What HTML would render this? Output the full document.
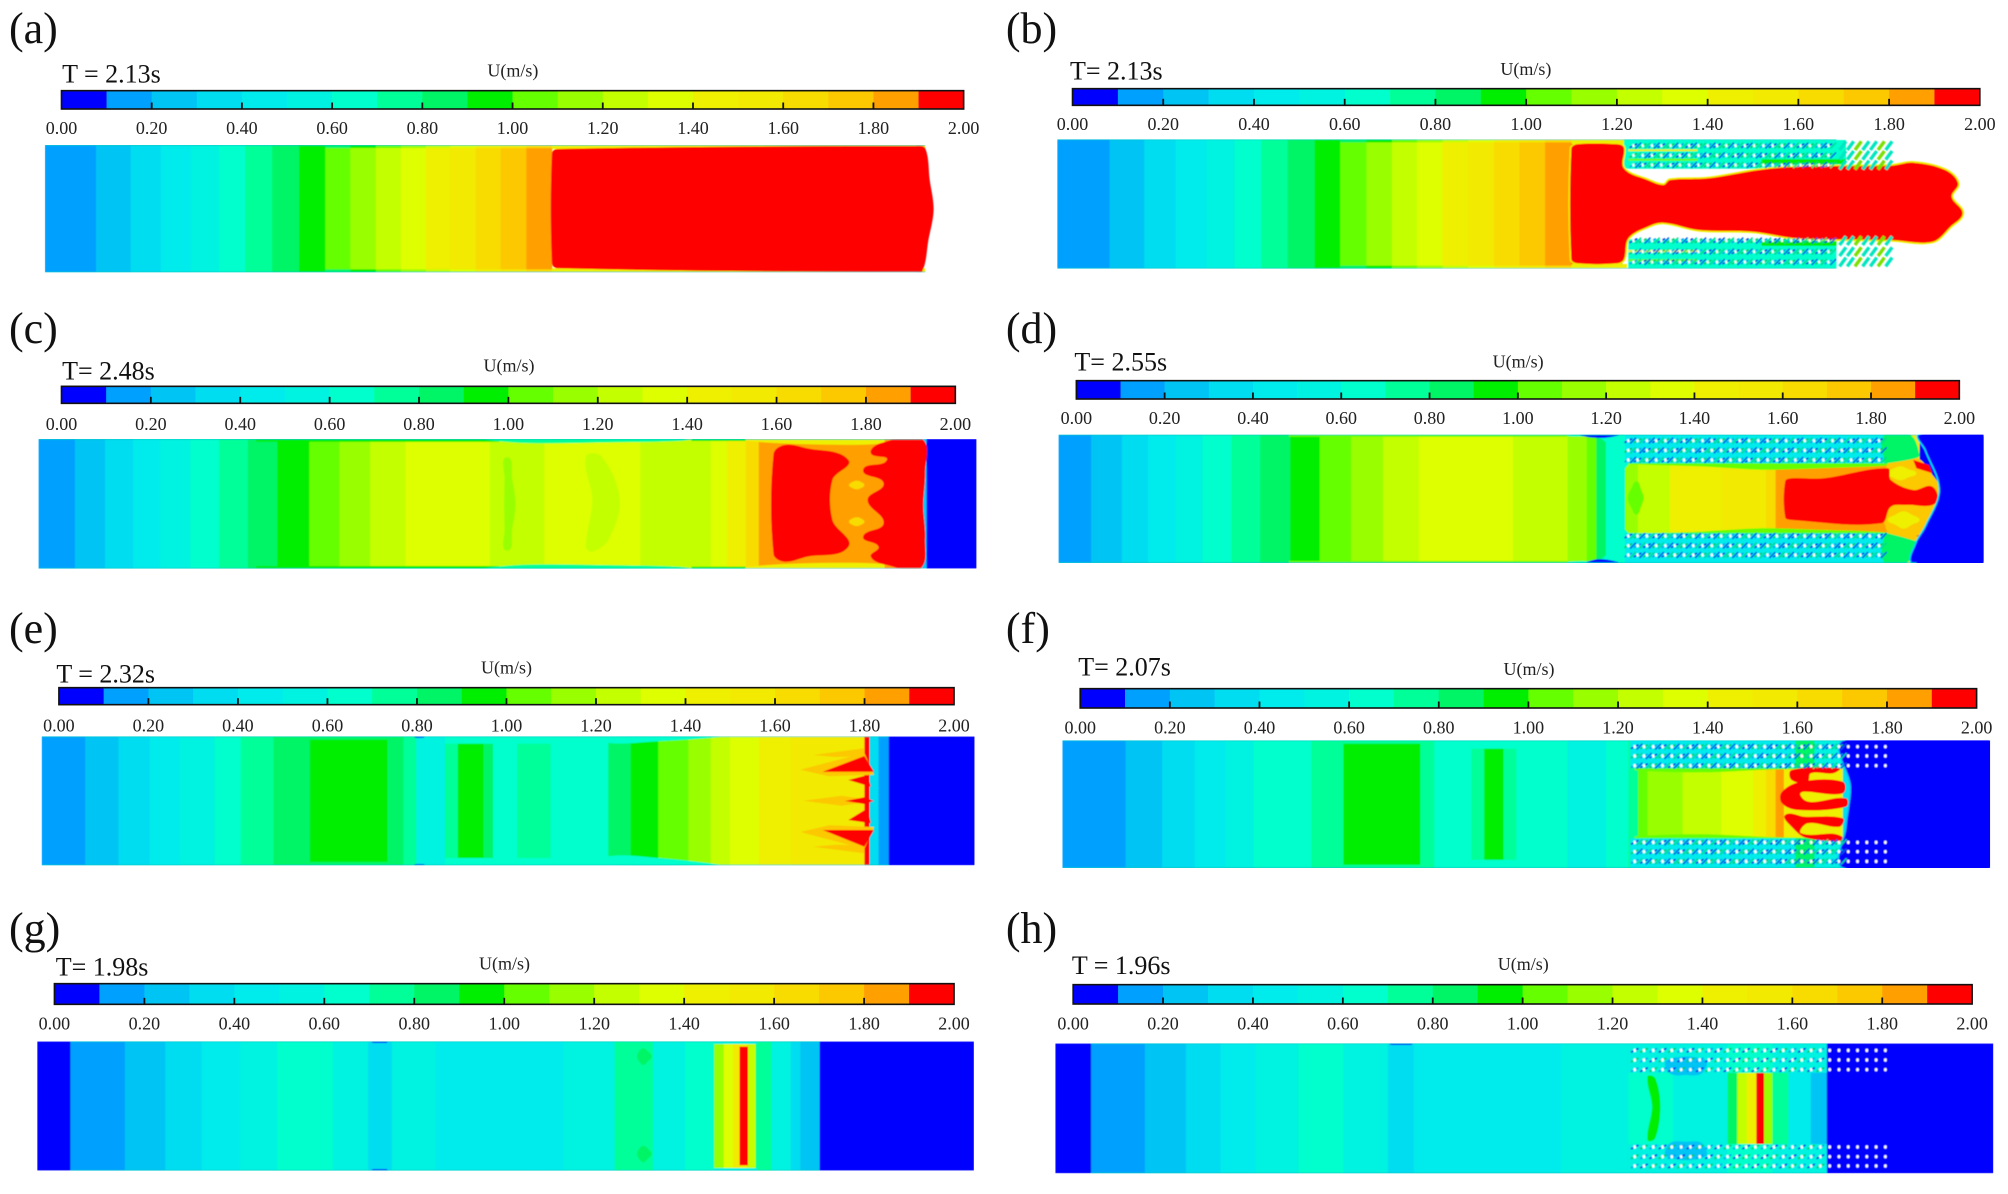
<!DOCTYPE html>
<html lang="en">
<head>
<meta charset="utf-8">
<title>Velocity contours U(m/s)</title>
<style>
html,body{margin:0;padding:0;background:#fff;}
svg{display:block;font-family:"Liberation Serif",serif;}
.field{filter:url(#soft);}
</style>
</head>
<body>
<svg id="figure" xmlns="http://www.w3.org/2000/svg" width="2008" height="1194" viewBox="0 0 2008 1194">
<defs id="defs"><filter id="soft" x="-2%" y="-5%" width="104%" height="110%"><feGaussianBlur stdDeviation="0.6"/></filter></defs>
</svg>
<script>
/* Colour legend */
const legendVelocityTicks = [0,0.2,0.4,0.6,0.8,1.0,1.2,1.4,1.6,1.8,2.0];
const legendTickLabels = ['0.00','0.20','0.40','0.60','0.80','1.00','1.20','1.40','1.60','1.80','2.00'];
const legendLevels = [0.05,0.15,0.25,0.35,0.45,0.55,0.65,0.75,0.85,0.95,1.05,1.15,1.25,1.35,1.45,1.55,1.65,1.75,1.85,1.95];
const levelColors = ['#0000ff','#00a0ff','#00c4f4','#00dcf0','#00ecec','#00f2e0','#00ffcc','#00ff99','#00f566','#00ee00','#66ff00','#99ff00','#c4ff00','#deff00','#eef000','#f2ea00','#f8dc00','#fcc800','#ffa000','#ff0000'];

/* Titles */
const panelLetters = ['(a)','(b)','(c)','(d)','(e)','(f)','(g)','(h)'];
const panelTimes = ['T = 2.13s','T= 2.13s','T= 2.48s','T= 2.55s','T = 2.32s','T= 2.07s','T= 1.98s','T = 1.96s'];
const legendTitle = 'U(m/s)';

function box(d0,d1,h0,h1,v){return {v:v,pts:[[d0,h0],[d1,h0],[d1,h1],[d0,h1]]};}

/* Panel a: band ends (cm from inlet) and band velocities (m/s) */
const bandEndsA = [80,134,181,228,272,313,355,397,438,477,517,556,595,633,673,712,752,792];
const bandVelocitiesA = [0.15,0.25,0.35,0.45,0.55,0.65,0.75,0.85,0.95,1.05,1.15,1.25,1.35,1.45,1.55,1.65,1.75,1.85];
const contoursA = [
  box(792,1375,0,12,1.45), box(792,1375,370,382,1.45),
  {v:1.95,pts:[[792,25],[800,12],[1360,3],[1375,10],[1382,105],[1388,195],[1380,285],[1370,380],[1355,382],[800,370],[792,355]]}
];

/* Panel b */
const bandEndsB = [82,136,185,233,277,319,360,402,442,483,523,562,602,642,682,722,762,803,882];
const bandVelocitiesB = [0.15,0.25,0.35,0.45,0.55,0.65,0.75,0.85,0.95,1.05,1.15,1.25,1.35,1.45,1.55,1.65,1.75,1.85,1.95];
const contoursB = [
  box(803,890,0,14,1.45), box(803,890,374,388,1.45),
  box(885,1232,2,88,0.65), box(892,1217,300,386,0.65),
  box(892,1000,30,36,1.45), box(892,1000,58,64,1.05), box(892,1000,332,338,1.45), box(892,1000,360,366,1.05),
  box(1100,1232,60,74,0.95), box(1100,1217,306,320,0.95),
  {v:1.95,halo:1.45,pts:[[875,15],[885,25],[885,87],[922,122],[947,137],[957,122],[1017,117],[1097,92],[1157,82],[1302,79],[1337,70],[1387,92],[1407,132],[1397,172],[1414,222],[1395,262],[1367,307],[1302,302],[1157,297],[1087,277],[1002,272],[947,250],[922,262],[892,297],[885,360],[875,372],[812,372],[803,360],[803,28],[812,15]]}
];
const porousRowsB = [19,48,77,304,337,368];

/* Panel c */
const bandEndsC = [57,104,148,190,237,282,327,373,423,470,518,573,705,790,940,1050,1075,1105,1125,1148,1380,1387,1465];
const bandVelocitiesC = [0.15,0.25,0.35,0.45,0.55,0.65,0.75,0.85,0.95,1.05,1.15,1.25,1.35,1.25,1.35,1.25,1.35,1.45,1.65,1.85,1.85,0.25,0.05];
const contoursC = [
  box(340,720,0,8,0.95), box(340,720,381,389,0.95),
  {v:0.75,pts:[[700,0],[1020,0],[1000,6],[900,10],[760,12]]},
  {v:0.75,pts:[[700,389],[1020,389],[1000,383],[900,379],[760,377]]},
  box(1020,1105,0,6,0.95), box(1020,1105,383,389,0.95),
  {v:1.45,pts:[[1105,0],[1320,0],[1320,14],[1200,16],[1105,6]]},
  {v:1.45,pts:[[1105,389],[1320,389],[1320,375],[1200,373],[1105,383]]},
  {v:1.25,pts:[[855,53],[880,53],[908,183],[890,303],[865,338],[855,323],[865,183]]},
  {v:1.15,pts:[[732,55],[740,120],[745,195],[740,270],[732,335],[728,270],[728,120]]},
  {v:1.95,pts:[[1148,45],[1165,18],[1200,28],[1265,63],[1240,123],[1240,243],[1265,323],[1200,353],[1165,368],[1148,345]]},
  {v:1.95,pts:[[1380,0],[1315,13],[1300,43],[1325,63],[1288,93],[1320,133],[1295,183],[1320,253],[1288,293],[1312,323],[1300,353],[1325,378],[1377,389],[1385,300],[1382,200],[1385,100]]},
  {v:1.65,pts:[[1266,138],[1272,128],[1278,125],[1284,128],[1290,138],[1284,148],[1278,151],[1272,148]]},
  {v:1.65,pts:[[1266,248],[1272,238],[1278,235],[1284,238],[1290,248],[1284,258],[1278,261],[1272,258]]}
];

/* Panel d */
const bandEndsD = [51,99,140,183,225,270,315,362,408,457,507,563,710,795,825,840,855,885,905,955,1035,1105,1120,1135,1295,1345,1445];
const bandVelocitiesD = [0.15,0.25,0.35,0.45,0.55,0.65,0.75,0.85,0.95,1.05,1.15,1.25,1.35,1.25,1.15,1.05,0.85,0.65,1.15,1.25,1.45,1.55,1.65,1.85,1.85,1.55,0.05];
const contoursD = [
  box(360,795,0,6,1.05), box(360,795,379,385,1.05),
  {v:0.65,pts:[[795,4],[845,10],[860,35],[885,100],[885,0],[795,0]]},
  {v:0.65,pts:[[795,381],[845,375],[860,350],[885,285],[885,385],[795,385]]},
  {v:0.05,pts:[[815,0],[875,0],[860,8],[845,10],[830,8]]},
  {v:0.05,pts:[[825,385],[875,385],[860,376],[845,374],[835,376]]},
  {v:1.05,pts:[[889,190],[895,160],[903,140],[910,165],[914,190],[910,215],[903,240],[895,220]]},
  {v:1.05,pts:[[890,88],[1000,95],[1100,105],[1200,100],[1300,92],[1300,84],[890,84]]},
  {v:1.05,pts:[[890,298],[1000,291],[1100,281],[1200,286],[1300,294],[1300,302],[890,302]]},
  box(885,1290,0,86,0.45), box(885,1290,296,385,0.45),
  {v:1.75,pts:[[1295,86],[1340,70],[1365,120],[1377,166],[1355,276],[1340,320],[1295,296]]},
  {v:0.85,pts:[[1290,0],[1330,0],[1345,60],[1340,70],[1295,86],[1290,86]]},
  {v:0.85,pts:[[1290,385],[1325,385],[1340,326],[1340,320],[1295,296],[1290,296]]},
  {v:1.45,pts:[[1290,116],[1302,104],[1315,95],[1328,104],[1340,116],[1328,128],[1315,137],[1302,128]]},
  {v:1.45,pts:[[1295,256],[1307,240],[1320,230],[1333,240],[1345,256],[1333,270],[1320,282],[1307,270]]},
  {v:1.95,pts:[[1145,131],[1195,131],[1295,101],[1300,136],[1335,166],[1365,156],[1370,206],[1325,211],[1300,216],[1285,266],[1145,256],[1135,248],[1135,140]]},
  {v:1.95,pts:[[1335,76],[1360,91],[1365,116],[1340,101]]},
  {v:1.95,pts:[[1340,304],[1350,296],[1350,314]]},
  {v:0.05,halo:0.35,pts:[[1345,0],[1355,46],[1377,166],[1355,276],[1340,326],[1335,385],[1445,385],[1445,0]]}
];
const porousRowsD = [18,47,76,304,333,361];

/* Panel e */
const bandEndsE = [68,120,169,215,270,311,362,419,540,565,585,630,650,690,705,743,795,885,920,963,1010,1045,1075,1120,1170,1190,1285,1293,1307,1323,1457];
const bandVelocitiesE = [0.15,0.25,0.35,0.45,0.55,0.65,0.75,0.85,0.95,0.85,0.75,0.55,0.75,0.95,0.85,0.65,0.75,0.65,0.85,0.95,1.05,1.15,1.25,1.35,1.45,1.55,1.55,1.95,0.35,0.15,0.05];
const contoursE = [
  box(419,565,0,10,0.85), box(419,565,377,387,0.85),
  box(630,885,0,22,0.65), box(630,885,365,387,0.65),
  {v:0.05,pts:[[580,0],[600,0],[596,4],[584,4]]},
  {v:0.05,pts:[[580,387],[600,387],[596,383],[584,383]]},
  {v:0.65,pts:[[885,20],[965,15],[1060,2],[1060,0],[885,0]]},
  {v:0.65,pts:[[885,360],[965,365],[1060,385],[1060,387],[885,387]]},
  {v:1.75,pts:[[1185,100],[1285,50],[1300,115],[1230,120]]},
  {v:1.75,pts:[[1185,287],[1285,337],[1300,272],[1230,267]]},
  {v:1.75,pts:[[1190,193],[1250,178],[1300,193],[1250,208]]},
  {v:1.75,pts:[[1205,56],[1285,36],[1285,60],[1240,62]]},
  {v:1.75,pts:[[1205,331],[1285,351],[1285,327],[1240,325]]},
  {v:1.95,pts:[[1220,106],[1285,59],[1300,106]]},
  {v:1.95,pts:[[1220,281],[1285,331],[1300,281]]},
  {v:1.95,pts:[[1260,131],[1290,116],[1295,151]]},
  {v:1.95,pts:[[1260,251],[1290,216],[1295,261]]},
  {v:1.95,pts:[[1255,194],[1285,183],[1300,194],[1285,203]]}
];

/* Panel f */
const bandEndsF = [99,156,207,255,299,344,389,439,559,581,639,659,689,709,789,849,884,899,914,969,1029,1079,1099,1114,1127,1219,1231,1449];
const bandVelocitiesF = [0.15,0.25,0.35,0.45,0.55,0.65,0.65,0.75,0.95,0.75,0.65,0.75,0.95,0.75,0.65,0.55,0.65,0.75,1.05,1.15,1.25,1.35,1.45,1.65,1.85,1.45,0.35,0.05];
const contoursF = [
  box(439,581,0,10,0.75), box(439,581,373,383,0.75),
  box(639,709,0,25,0.65), box(639,709,358,383,0.65),
  {v:1.05,pts:[[895,90],[1000,96],[1100,88],[1222,84],[1222,80],[895,80]]},
  {v:1.05,pts:[[895,288],[1000,282],[1100,290],[1222,294],[1222,298],[895,298]]},
  box(887,1219,0,84,0.4), box(887,1219,294,383,0.4),
  box(1145,1175,0,84,0.85), box(1145,1175,294,383,0.85),
  box(1175,1219,0,84,0.55), box(1175,1219,294,383,0.55),
  {v:1.95,pts:[[1139,89],[1214,84],[1204,99],[1169,99],[1164,124],[1139,119]]},
  {v:1.95,pts:[[1124,154],[1154,124],[1219,124],[1219,159],[1154,169],[1224,174],[1224,199],[1149,209],[1124,189]]},
  {v:1.95,pts:[[1129,224],[1159,229],[1219,234],[1214,259],[1164,249],[1154,279],[1219,291],[1164,294],[1139,259]]},
  {v:0.05,halo:0.25,pts:[[1222,0],[1232,140],[1225,260],[1222,383],[1449,383],[1449,0]]}
];
const porousRowsF = [19,47,76,306,334,363];

/* Panel g */
const bandEndsG = [52,137,200,257,317,375,462,517,554,622,777,822,902,962,1012,1057,1072,1087,1097,1110,1122,1147,1177,1192,1222,1463];
const bandVelocitiesG = [0.05,0.15,0.25,0.35,0.45,0.55,0.65,0.55,0.35,0.55,0.45,0.45,0.55,0.75,0.55,0.65,1.15,1.35,1.55,1.95,1.25,0.75,0.55,0.35,0.25,0.05];
const contoursG = [
  box(1057,1125,0,8,0.55), box(1057,1125,380,388,0.55),
  box(1097,1110,8,16,1.45), box(1097,1110,372,380,1.45),
  {v:0.05,pts:[[520,0],[550,0],[545,5],[525,5]]},
  {v:0.05,pts:[[520,388],[550,388],[545,383],[525,383]]},
  {v:0.85,pts:[[937,46],[940,30],[947,21],[954,30],[960,46],[954,60],[947,71],[940,60]]},
  {v:0.85,pts:[[937,338],[940,322],[947,313],[954,322],[960,338],[954,352],[947,363],[940,352]]}
];

/* Panel h */
const bandEndsH = [56,140,204,258,313,380,450,520,560,620,790,895,920,945,965,1050,1065,1080,1095,1107,1120,1145,1180,1205,1465];
const bandVelocitiesH = [0.05,0.15,0.25,0.35,0.45,0.55,0.65,0.55,0.35,0.45,0.45,0.55,0.65,0.65,0.65,0.55,0.85,1.25,1.45,1.95,1.15,0.75,0.45,0.25,0.05];
const contoursH = [
  box(895,1205,0,88,0.5), box(895,1205,302,390,0.5),
  box(1050,1120,0,88,0.6), box(1050,1120,302,390,0.6),
  {v:0.95,pts:[[925,100],[937,105],[945,190],[937,285],[925,290],[932,190]]},
  {v:0.2,pts:[[955,50],[1015,50],[1010,90],[985,95],[960,90]]},
  {v:0.2,pts:[[955,340],[1015,340],[1010,300],[985,295],[960,300]]},
  {v:0.05,pts:[[520,0],[560,0],[555,5],[525,5]]}
];
const porousRowsH = [21,50,79,311,340,368];

/* Page layout in figure coordinates */
const svgNS = 'http://www.w3.org/2000/svg';
const figure = document.getElementById('figure');
const defs = document.getElementById('defs');
const pxPerCmX = 0.6403;
const pxPerCmY = 1/3;
const frames = [
 {ox:0,oy:0,lx:14,tx:97,ty:248,ux:801,uy:230,c0:96,c1:1505,ct:272,cb:327,ly:402,fl:70,ft:435,len:1500,wall:[0,1375],fh:382,bands:bandEndsA,vels:bandVelocitiesA,cont:contoursA,wallFrom:430},
 {ox:1004,oy:0,lx:3,tx:103,ty:238,ux:815,uy:225,c0:107,c1:1524,ct:266,cb:316,ly:390,fl:83,ft:418,len:1500,wall:[0,1217],fh:388,bands:bandEndsB,vels:bandVelocitiesB,cont:contoursB,wallFrom:440,rows:porousRowsB,p0:900,p1:1217,ps:1232,saw:[1222,1300],dense:true,dotR:1.2},
 {ox:0,oy:300,lx:14,tx:97,ty:238,ux:795,uy:215,c0:96,c1:1492,ct:259,cb:310,ly:390,fl:60,ft:417,len:1465,wall:[0,1380],fh:389,bands:bandEndsC,vels:bandVelocitiesC,cont:contoursC},
 {ox:1004,oy:300,lx:3,tx:110,ty:212,ux:803,uy:203,c0:113,c1:1492,ct:242,cb:297,ly:372,fl:85,ft:404,len:1445,wall:[0,1340],fh:385,bands:bandEndsD,vels:bandVelocitiesD,cont:contoursD,rows:porousRowsD,p0:890,p1:1290,ps:1290,dense:true,dotR:1.3},
 {ox:0,oy:600,lx:14,tx:88,ty:247,ux:791,uy:220,c0:92,c1:1490,ct:263,cb:314,ly:395,fl:65,ft:409,len:1457,wall:[0,1323],fh:387,bands:bandEndsE,vels:bandVelocitiesE,cont:contoursE},
 {ox:1004,oy:600,lx:3,tx:116,ty:226,ux:820,uy:225,c0:119,c1:1519,ct:266,cb:324,ly:400,fl:91,ft:421,len:1449,wall:[0,1222],fh:383,bands:bandEndsF,vels:bandVelocitiesF,cont:contoursF,rows:porousRowsF,p0:894,p1:1294,ps:1219,dense:true,dotR:1.4},
 {ox:0,oy:900,lx:14,tx:87,ty:226,ux:788,uy:208,c0:85,c1:1490,ct:251,cb:313,ly:388,fl:58,ft:424,len:1463,wall:[52,1222],fh:388,bands:bandEndsG,vels:bandVelocitiesG,cont:contoursG},
 {ox:1004,oy:900,lx:3,tx:106,ty:222,ux:811,uy:210,c0:108,c1:1512,ct:254,cb:312,ly:388,fl:80,ft:430,len:1465,wall:[56,1205],fh:390,bands:bandEndsH,vels:bandVelocitiesH,cont:contoursH,rows:porousRowsH,p0:905,p1:1308,ps:1205,dotR:1.4}
];

function colorScale(v){
  const i = Math.max(0,Math.min(levelColors.length-1,Math.floor(v*10+1e-6)));
  return levelColors[i];
}
function mk(tag,attrs,parent){
  const el = document.createElementNS(svgNS,tag);
  for(const k in attrs){el.setAttribute(k,attrs[k]);}
  parent.appendChild(el);
  return el;
}
function contourPath(P){
  const n = P.length;
  if(n<5){return 'M'+P.map(function(p){return p[0].toFixed(1)+' '+p[1].toFixed(1);}).join('L')+'Z';}
  const tangent = function(i){
    const a = P[(i-1+n)%n], b = P[(i+1)%n];
    const dx = b[0]-a[0], dy = b[1]-a[1], m = Math.hypot(dx,dy)||1;
    return [dx/m,dy/m];
  };
  let d = 'M'+P[0][0].toFixed(1)+' '+P[0][1].toFixed(1);
  for(let i=0;i<n;i++){
    const j = (i+1)%n, a = P[i], b = P[j], ta = tangent(i), tb = tangent(j);
    const L = Math.hypot(b[0]-a[0],b[1]-a[1])/3;
    d += 'C'+(a[0]+ta[0]*L).toFixed(1)+' '+(a[1]+ta[1]*L).toFixed(1)+' '+(b[0]-tb[0]*L).toFixed(1)+' '+(b[1]-tb[1]*L).toFixed(1)+' '+b[0].toFixed(1)+' '+b[1].toFixed(1);
  }
  return d+'Z';
}

frames.forEach(function(f,pi){
  const letter = panelLetters[pi].charAt(1);
  const px = function(zx){return f.ox + zx*pxPerCmX;};
  const py = function(zy){return f.oy + zy*pxPerCmY;};
  const xScale = function(d){return px(f.fl + d);};
  const yScale = function(h){return py(f.ft + h);};
  const cbScale = function(v){return px(f.c0) + v/2*(px(f.c1)-px(f.c0));};

  const g = mk('g',{},figure);
  
  

  const label = mk('text',{x:px(f.lx),y:f.oy+43,'font-size':44,fill:'#111'},g);
  label.textContent = panelLetters[pi];
  
  

  const time = mk('text',{x:px(f.tx),y:py(f.ty),'font-size':26,fill:'#111'},g);
  time.textContent = panelTimes[pi];
  
  

  const title = mk('text',{x:px(f.ux),y:py(f.uy),'font-size':18,fill:'#222','text-anchor':'middle'},g);
  title.textContent = legendTitle;
  
  

  /* colour bar */
  const bar = mk('g',{},g);
  
  
  legendLevels.forEach(function(v){
    const x0 = cbScale(v-0.05), x1 = cbScale(v+0.05);
    const cell = mk('rect',{x:x0,y:py(f.ct),width:x1-x0+0.3,height:py(f.cb)-py(f.ct),fill:colorScale(v)},bar);
    
    
  });
  const outline = mk('rect',{x:cbScale(0),y:py(f.ct),width:cbScale(2)-cbScale(0),height:py(f.cb)-py(f.ct),fill:'none',stroke:'#111','stroke-width':1.6},bar);
  
  
  legendVelocityTicks.forEach(function(v,i){
    if(i>0 && i<legendVelocityTicks.length-1){
      const tick = mk('line',{x1:cbScale(v),x2:cbScale(v),y1:py(f.cb),y2:py(f.cb)-6.5,stroke:'#111','stroke-width':1.8},bar);
      
      
    }
    const t = mk('text',{x:cbScale(v),y:py(f.ly),'font-size':18,fill:'#222','text-anchor':'middle'},bar);
    t.textContent = legendTickLabels[i];
    
    
  });

  /* contour field, clipped to the channel */
  const clip = mk('clipPath',{id:'clip-'+letter},defs);
  mk('rect',{x:xScale(0),y:yScale(0),width:xScale(f.len)-xScale(0),height:yScale(f.fh)-yScale(0)},clip);
  const clipGroup = mk('g',{'clip-path':'url(#clip-'+letter+')'},g);
  const field = mk('g',{class:'field'},clipGroup);
  
  
  let start = 0;
  f.bands.forEach(function(end,i){
    const band = mk('rect',{x:xScale(start),y:yScale(0),width:xScale(end)-xScale(start)+0.4,height:yScale(f.fh)-yScale(0),fill:colorScale(f.vels[i])},field);
    
    
    start = end;
  });
  /* slower boundary layer: each band drops two levels near the walls */
  if(f.wallFrom!==undefined){
    start = 0;
    f.bands.forEach(function(end,i){
      if(start>=f.wallFrom){
        [0,f.fh-9].forEach(function(h){
          const lag = mk('rect',{x:xScale(start),y:yScale(h),width:xScale(end)-xScale(start)+0.4,height:3,fill:colorScale(f.vels[i]-0.2)},field);
          
          
        });
      }
      start = end;
    });
  }
  f.cont.forEach(function(c){
    const pts = c.pts.map(function(p){return [xScale(p[0]),yScale(p[1])];});
    const d = contourPath(pts);
    if(c.halo!==undefined){
      const halo = mk('path',{d:d,fill:colorScale(c.halo),stroke:colorScale(c.halo),'stroke-width':3.2,'stroke-linejoin':'round'},field);
      
      
    }
    const poly = mk('path',{d:d,fill:colorScale(c.v)},field);
    
    
  });

  /* channel walls */
  [0,f.fh].forEach(function(h){
    const wall = mk('line',{x1:xScale(f.wall[0]),x2:xScale(f.wall[1]),y1:yScale(h),y2:yScale(h),stroke:'#00c8c0','stroke-width':1.2},field);
    
    
  });

  /* staggered sawtooth wake beyond the wall (panel b) */
  if(f.saw){
    f.rows.forEach(function(h,r){
      for(let d=f.saw[0],n=0; d<f.saw[1]; d+=12,n++){
        const tooth = mk('line',{x1:xScale(d),y1:yScale(h+13),x2:xScale(d+10),y2:yScale(h-13),stroke:n%3===2?'#7ae000':'#00e6c0','stroke-width':3.4},field);
        
        
      }
    });
  }

  /* porous cylinder array */
  if(f.rows){
    f.rows.forEach(function(h,r){
      let n = 0;
      for(let d=f.p0; d<=f.p1; d+=14.5,n++){
        if(d<f.ps){
          const fleck = mk('line',{x1:xScale(d-6),x2:xScale(d+6),y1:yScale(h+6),y2:yScale(h-6),stroke:(n+r)%3===0?'#0020e0':((n+r)%3===1?'#00c860':'#00a0f0'),'stroke-width':1.5},field);
          
          
          if(f.dense){
            const fleck2 = mk('line',{x1:xScale(d+3),x2:xScale(d+12),y1:yScale(h+9),y2:yScale(h-9),stroke:(n+r)%2===0?'#0050e8':'#00d890','stroke-width':1.5},field);
            
            
          }
        }
        const dot = mk('ellipse',{cx:xScale(d),cy:yScale(h),rx:f.dotR,ry:f.dotR+0.3,fill:'#fff'},field);
        
        
      }
    });
  }
});
</script>
</body>
</html>
